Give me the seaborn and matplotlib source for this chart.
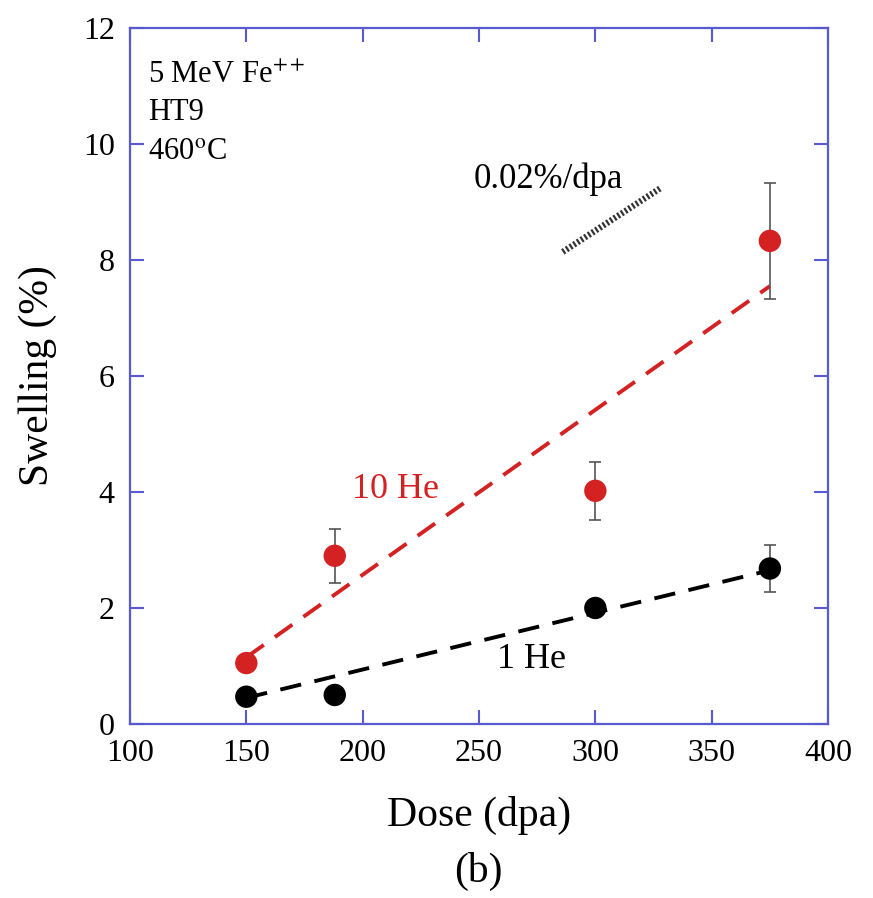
import matplotlib
matplotlib.use("Agg")
import matplotlib.pyplot as plt
import seaborn as sns
import pandas as pd

# Measured swelling vs dose
dose = [150, 188, 300, 375]
swell_10he = [1.05, 2.9, 4.02, 8.33]
err_10he = [0.0, 0.47, 0.5, 1.0]
swell_1he = [0.47, 0.5, 2.0, 2.68]
err_1he = [0.0, 0.0, 0.08, 0.4]

# Linear fits (end points)
fit_dose = [150, 375]
fit_10he = [1.15, 7.55]
fit_1he = [0.45, 2.65]

# Reference slope guide (0.02 %/dpa label)
guide_dose = [286, 328]
guide_swell = [8.14, 9.24]

sns.set_style("ticks")
plt.rcParams["font.family"] = ["Liberation Serif", "DejaVu Serif"]
plt.rcParams["mathtext.fontset"] = "stix"
plt.rcParams["text.color"] = "black"
plt.rcParams["axes.labelcolor"] = "black"

SPINE = "#5a5ad0"
RED = "#d42222"

fig = plt.figure(figsize=(8.73, 8.98), dpi=100)
ax = fig.add_axes([0.1489, 0.1938, 0.7996, 0.775])

pts = pd.DataFrame({
    "dose": dose * 2,
    "swelling": swell_10he + swell_1he,
    "He": ["10 He"] * 4 + ["1 He"] * 4,
})
fits = pd.DataFrame({
    "dose": fit_dose * 2,
    "swelling": fit_10he + fit_1he,
    "He": ["10 He"] * 2 + ["1 He"] * 2,
})
pal = {"10 He": RED, "1 He": "black"}

# Fit lines
for name in ["10 He", "1 He"]:
    sns.lineplot(data=fits[fits.He == name], x="dose", y="swelling",
                 color=pal[name], lw=2.8, ax=ax, legend=False)
for line in ax.get_lines():
    line.set_dashes((5.5, 3.5))

# Error bars
ax.errorbar(dose, swell_10he, yerr=err_10he, fmt="none", ecolor="#555555",
            elinewidth=1.2, capsize=4, capthick=1.2, zorder=3)
ax.errorbar(dose, swell_1he, yerr=err_1he, fmt="none", ecolor="#555555",
            elinewidth=1.2, capsize=4, capthick=1.2, zorder=3)

# Data points
sns.scatterplot(data=pts, x="dose", y="swelling", hue="He", palette=pal,
                s=260, edgecolor="none", ax=ax, legend=False, zorder=4)

# Slope guide
ax.plot(guide_dose, guide_swell, color="#333333", lw=4.5,
        dashes=(0.35, 0.35), solid_capstyle="butt", dash_capstyle="butt")

ax.set_xlim(100, 400)
ax.set_ylim(0, 12)
ax.set_xticks(range(100, 401, 50))
ax.set_yticks(range(0, 13, 2))

for s in ax.spines.values():
    s.set_color(SPINE)
    s.set_linewidth(1.6)
ax.tick_params(direction="in", length=10, width=1.5, color=SPINE,
               top=True, right=True, labelsize=23, labelcolor="black", pad=11)

ax.set_xlabel("Dose (dpa)", fontsize=30)
ax.set_ylabel("Swelling (%)", fontsize=30)
ax.xaxis.label.set_va("center")
ax.yaxis.label.set_va("center")
ax.xaxis.set_label_coords(0.5, -0.131)
ax.yaxis.set_label_coords(-0.132, 0.5)

# Irradiation conditions
for txt, yb in zip(["5 MeV Fe$^{++}$", "HT9", "460$^{\\rm o}$C"], [11.05, 10.41, 9.72]):
    ax.text(107.7, yb, txt, fontsize=22, va="baseline", ha="left")

ax.text(279.6, 9.24, "0.02%/dpa", fontsize=25, ha="center", va="baseline")
ax.text(195.4, 3.9, "10 He", fontsize=26, color=RED, ha="left", va="baseline")
ax.text(257.7, 0.97, "1 He", fontsize=26, color="black", ha="left", va="baseline")

fig.text(0.5475, 0.029, "(b)", fontsize=30, ha="center", va="center")

fig.savefig("out.png", dpi=100, facecolor="white")
